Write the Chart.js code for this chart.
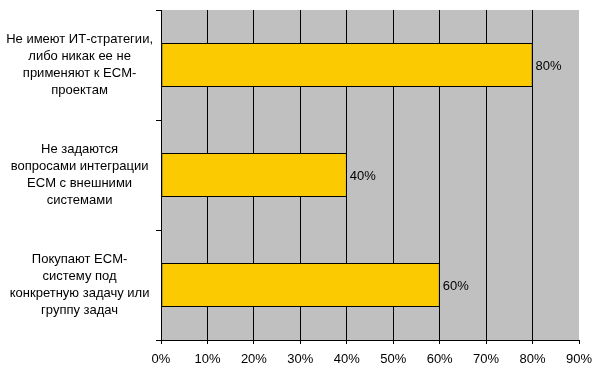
<!DOCTYPE html>
<html>
<head>
<meta charset="utf-8">
<script src="https://cdn.jsdelivr.net/npm/chart.js@4/dist/chart.umd.min.js"></script>
<style>
  body { margin: 0; background: #fff; }
</style>
</head>
<body>
<canvas id="my-chart" width="597" height="381"></canvas>
<script>
'use strict';

// ******** DATA **************
let categories = [
  ['Не имеют ИТ-стратегии,', 'либо никак ее не', 'применяют к ECM-', 'проектам'],
  ['Не задаются', 'вопросами интеграции', 'ECM с внешними', 'системами'],
  ['Покупают ECM-', 'систему под', 'конкретную задачу или', 'группу задач']
];
let shares = [80, 40, 60];
let tickValues = [0, 10, 20, 30, 40, 50, 60, 70, 80, 90];

let fontFamily = '"Liberation Sans", Arial, sans-serif';

// ******** PLUGINS **************
let plotBackground = {
  id: 'plotBackground',
  beforeDraw(chart) {
    let ctx = chart.ctx;
    let area = chart.chartArea;
    ctx.save();
    ctx.fillStyle = '#ffffff';
    ctx.fillRect(0, 0, chart.width, chart.height);
    ctx.fillStyle = '#c0c0c0';
    ctx.fillRect(area.left, area.top, area.right - area.left, area.bottom - area.top);
    ctx.restore();
  }
};

let valueLabels = {
  id: 'valueLabels',
  afterDatasetsDraw(chart) {
    let ctx = chart.ctx;
    let meta = chart.getDatasetMeta(0);
    ctx.save();
    ctx.font = '13px ' + fontFamily;
    ctx.fillStyle = '#000';
    ctx.textAlign = 'left';
    ctx.textBaseline = 'middle';
    meta.data.forEach(function (bar, i) {
      ctx.fillText(shares[i] + '%', bar.x + 3, bar.y + 1);
    });
    ctx.restore();
  }
};

// ******** CHART **************
let canvasElem = document.getElementById('my-chart');

new Chart(canvasElem, {
  type: 'bar',
  data: {
    labels: categories,
    datasets: [{
      data: shares,
      backgroundColor: '#fcca00',
      borderColor: '#000000',
      borderWidth: 1,
      borderSkipped: false,
      categoryPercentage: 0.8,
      barPercentage: 0.5
    }]
  },
  options: {
    indexAxis: 'y',
    responsive: false,
    animation: false,
    layout: { padding: { top: 10, right: 18, left: 0, bottom: 0 } },
    plugins: {
      legend: { display: false },
      tooltip: { enabled: false }
    },
    scales: {
      x: {
        min: 0,
        max: 90,
        afterBuildTicks(scale) {
          scale.ticks = tickValues.map(function (v) { return { value: v }; });
        },
        afterFit(scale) {
          scale.height = 41;
          scale.paddingLeft = 0;
          scale.paddingRight = 0;
        },
        grid: {
          color(ctx) { return ctx.tick && ctx.tick.value === 90 ? 'rgba(0,0,0,0)' : '#000'; },
          tickColor: '#000',
          tickLength: 4,
          lineWidth: 1
        },
        border: { display: true, color: '#000' },
        ticks: {
          color: '#000',
          font: { family: fontFamily, size: 13 },
          padding: 8,
          maxRotation: 0,
          callback(v) { return v + '%'; }
        }
      },
      y: {
        afterFit(scale) {
          scale.width = 161;
          scale.paddingTop = 0;
          scale.paddingBottom = 0;
        },
        grid: {
          offset: true,
          drawOnChartArea: false,
          tickColor: '#000',
          tickLength: 5
        },
        border: { display: true, color: '#000' },
        ticks: {
          color: '#000',
          crossAlign: 'center',
          padding: 3,
          font: { family: fontFamily, size: 13, lineHeight: 1.3 }
        }
      }
    }
  },
  plugins: [plotBackground, valueLabels]
});
</script>
</body>
</html>
